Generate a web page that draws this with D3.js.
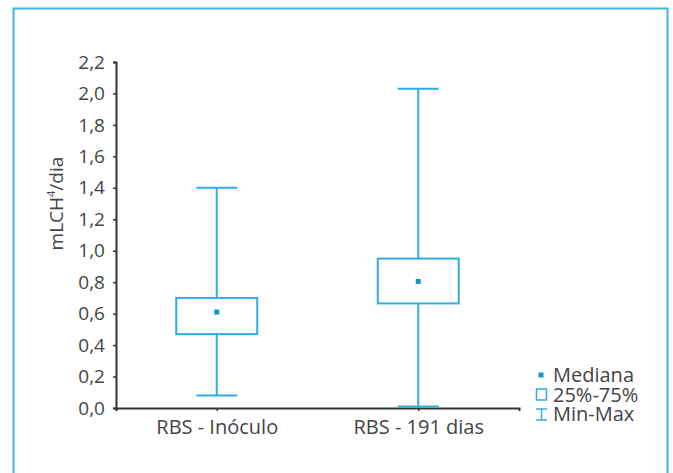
<!DOCTYPE html>
<html>
<head>
<meta charset="utf-8">
<script src="https://cdn.jsdelivr.net/npm/d3@7"></script>
<style>
  body { margin: 0; background: #fff; }
  svg text { font-family: "Open Sans", sans-serif; fill: #444; }
</style>
</head>
<body>
<div class="chart"></div>
<script>
// data
const groups = ['RBS - Inóculo', 'RBS - 191 dias']
const minVals = [0.08, 0.01]
const q1Vals = [0.47, 0.665]
const medianVals = [0.61, 0.805]
const q3Vals = [0.70, 0.95]
const maxVals = [1.40, 2.03]
const yTicks = [0, 0.2, 0.4, 0.6, 0.8, 1.0, 1.2, 1.4, 1.6, 1.8, 2.0, 2.2]
const legendLabels = ['Mediana', '25%-75%', 'Min-Max']

const width = 673
const height = 473
const blue = '#2eafe0'
const darkBlue = '#0f96cc'

const margin = { top: 62, left: 116, right: 154, bottom: 65 }
const innerWidth = width - margin.left - margin.right
const innerHeight = height - margin.top - margin.bottom

const data = groups.map((g, i) => ({
  group: g,
  min: minVals[i], q1: q1Vals[i], median: medianVals[i], q3: q3Vals[i], max: maxVals[i]
}))

const root = d3.select('.chart').append('svg')
  .attr('width', width)
  .attr('height', height)

// outer frame
root.append('rect')
  .attr('x', 13.5).attr('y', 8.5)
  .attr('width', 654).attr('height', 480)
  .attr('fill', 'none')
  .attr('stroke', '#3cb6e3')
  .attr('stroke-width', 2)

const svg = root.append('g')
  .attr('transform', `translate(${margin.left},${margin.top})`)

const x = d3.scalePoint()
  .domain(groups)
  .range([0, innerWidth])
  .padding(0.5)

const y = d3.scaleLinear()
  .domain([0, 2.2])
  .range([innerHeight, 0])

const fmt = d => d3.format('.1f')(d).replace('.', ',')

const yAxis = svg.append('g')
  .attr('class', 'axis axis--y')
  .call(d3.axisLeft(y).tickValues(yTicks).tickSize(3).tickPadding(8).tickFormat(fmt))

const xAxis = svg.append('g')
  .attr('class', 'axis axis--x')
  .attr('transform', `translate(0,${innerHeight})`)
  .call(d3.axisBottom(x).tickSize(3).tickPadding(9))

svg.selectAll('.axis .domain')
  .attr('stroke', '#333')
  .attr('stroke-width', 2)
svg.selectAll('.axis line')
  .attr('stroke', '#333')
  .attr('stroke-width', 1.5)
svg.selectAll('.axis text')
  .attr('font-size', 19)
  .attr('fill', '#444')
xAxis.selectAll('text').attr('font-size', 20)

// y label
svg.append('text')
  .attr('transform', `translate(-53,${y(1.3)}) rotate(-90)`)
  .attr('text-anchor', 'middle')
  .attr('font-size', 19)
  .html('mLCH<tspan dy="-8" font-size="11">4</tspan><tspan dy="8">/dia</tspan>')

const boxWidth = 81
const capWidth = 41

const boxes = svg.append('g')
  .selectAll('g')
  .data(data)
  .join('g')
  .attr('transform', d => `translate(${x(d.group)},0)`)

// whiskers
boxes.append('line')
  .attr('x1', 0).attr('x2', 0)
  .attr('y1', d => y(d.max))
  .attr('y2', d => y(d.min))
  .attr('stroke', blue)
  .attr('stroke-width', 2)

boxes.selectAll('.cap')
  .data(d => [d.min, d.max])
  .join('line')
  .attr('class', 'cap')
  .attr('x1', -capWidth / 2).attr('x2', capWidth / 2)
  .attr('y1', d => y(d)).attr('y2', d => y(d))
  .attr('stroke', blue)
  .attr('stroke-width', 2)

boxes.append('rect')
  .attr('x', -boxWidth / 2)
  .attr('width', boxWidth)
  .attr('y', d => y(d.q3))
  .attr('height', d => y(d.q1) - y(d.q3))
  .attr('fill', '#fff')
  .attr('stroke', blue)
  .attr('stroke-width', 2)

boxes.append('rect')
  .attr('x', -2.5)
  .attr('y', d => y(d.median) - 2.5)
  .attr('width', 5)
  .attr('height', 5)
  .attr('fill', darkBlue)

// legend
const legend = root.append('g')
  .attr('transform', 'translate(541,375)')

const item = legend.selectAll('g')
  .data(legendLabels)
  .join('g')
  .attr('transform', (d, i) => `translate(0,${i * 19.5})`)

item.append('text')
  .attr('x', 12)
  .attr('y', 0)
  .attr('dy', '0.35em')
  .attr('font-size', 20)
  .text(d => d)

legend.append('rect')
  .attr('x', -2.5).attr('y', -2.5)
  .attr('width', 5).attr('height', 5)
  .attr('fill', darkBlue)

legend.append('rect')
  .attr('x', -4.5).attr('y', 19.5 - 5.5)
  .attr('width', 10).attr('height', 11)
  .attr('fill', 'none')
  .attr('stroke', blue)
  .attr('stroke-width', 1.5)

const mm = legend.append('g').attr('transform', 'translate(0,39)')
mm.append('line').attr('x1', -5).attr('x2', 6).attr('y1', -5).attr('y2', -5)
mm.append('line').attr('x1', -5).attr('x2', 6).attr('y1', 6).attr('y2', 6)
mm.append('line').attr('x1', 0.5).attr('x2', 0.5).attr('y1', -5).attr('y2', 6)
mm.selectAll('line').attr('stroke', blue).attr('stroke-width', 1.5)
</script>
</body>
</html>
